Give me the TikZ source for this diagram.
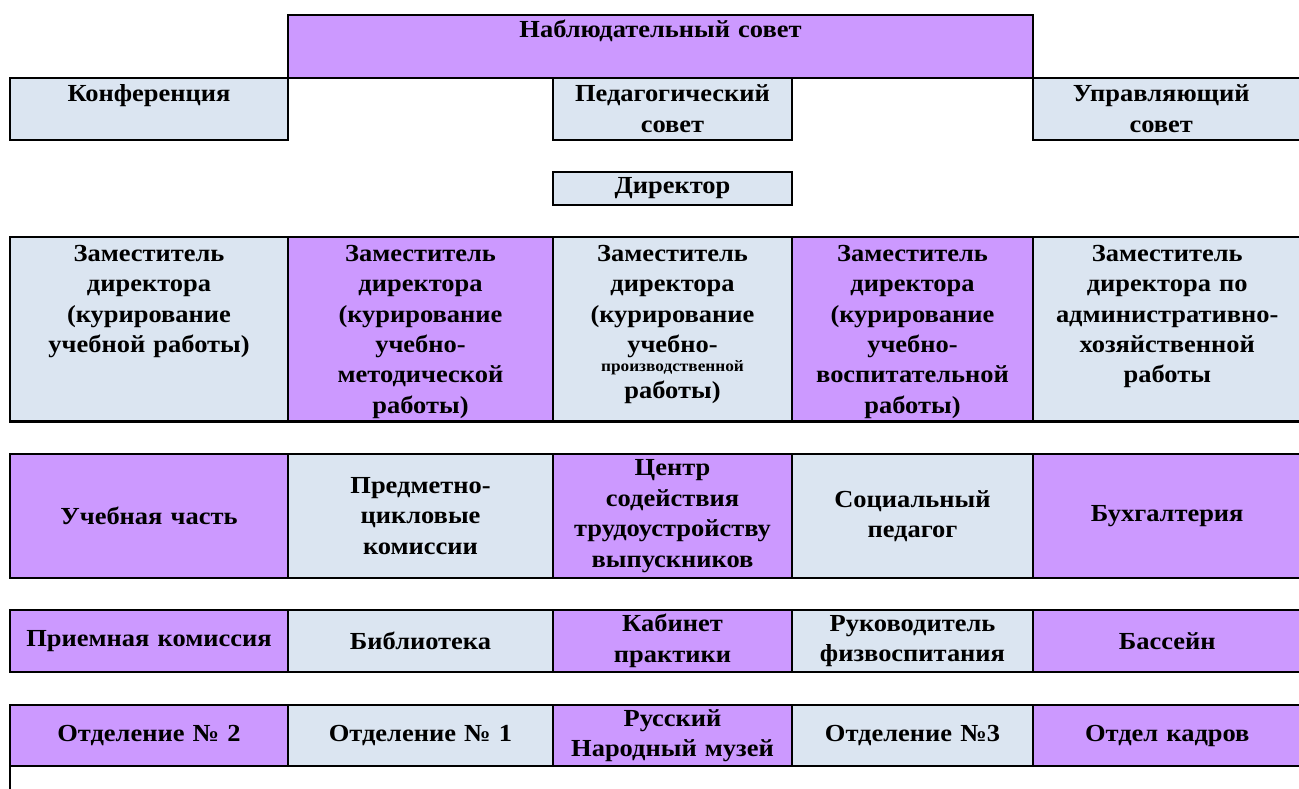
\documentclass[tikz,border=0pt]{standalone}
\usepackage{fontspec}
\newfontfamily\tnr{Liberation Serif}[FakeStretch=1.08]
\definecolor{lav}{RGB}{204,153,255}
\definecolor{lblue}{RGB}{219,229,241}
\hyphenpenalty=10000
\tikzset{
  cellbox/.style={draw=black, line width=2.2pt, inner sep=0pt, outer sep=0pt, anchor=north west},
  txt/.style={font=\tnr\bfseries\fontsize{24.5}{30.5}\selectfont, align=center, inner sep=0pt, outer sep=0pt},
  toptxt/.style={txt, anchor=north, execute at begin node={\rule{0pt}{20pt}}},
  midtxt/.style={txt, anchor=center},
}
\newcommand\mkcell[6]{\node[cellbox, fill=#6, minimum width={(#4)-(#2)}, minimum height={(#5)-(#3)}] (#1) at (#2,#3) {};}
\newcommand\toptext[5]{\node[toptxt, text width=#3] (#1) at ([yshift=-#4]#2.north) {#5};}
\newcommand\midtext[4]{\node[midtxt, text width=#3] (#1) at (#2.center) {#4};}
\begin{document}
\begin{tikzpicture}[x=1pt,y=-1pt]
\useasboundingbox (0,0) rectangle (1299,789);
\clip (0,0) rectangle (1299,789);
% top
\mkcell{nab}{288}{15}{1033}{78}{lav}
\mkcell{konf}{10}{78}{288}{140}{lblue}
\mkcell{ped}{553}{78}{792}{140}{lblue}
\mkcell{upr}{1033}{78}{1301.5}{140}{lblue}
\mkcell{dir}{553}{172}{792}{205}{lblue}
% deputies
\mkcell{z1}{10}{237}{288}{421.5}{lblue}
\mkcell{z2}{288}{237}{553}{421.5}{lav}
\mkcell{z3}{553}{237}{792}{421.5}{lblue}
\mkcell{z4}{792}{237}{1033}{421.5}{lav}
\mkcell{z5}{1033}{237}{1301.5}{421.5}{lblue}
% row 2
\mkcell{a1}{10}{454}{288}{578}{lav}
\mkcell{a2}{288}{454}{553}{578}{lblue}
\mkcell{a3}{553}{454}{792}{578}{lav}
\mkcell{a4}{792}{454}{1033}{578}{lblue}
\mkcell{a5}{1033}{454}{1301.5}{578}{lav}
% row 3
\mkcell{b1}{10}{610}{288}{672}{lav}
\mkcell{b2}{288}{610}{553}{672}{lblue}
\mkcell{b3}{553}{610}{792}{672}{lav}
\mkcell{b4}{792}{610}{1033}{672}{lblue}
\mkcell{b5}{1033}{610}{1301.5}{672}{lav}
% row 4
\mkcell{c1}{10}{705}{288}{766}{lav}
\mkcell{c2}{288}{705}{553}{766}{lblue}
\mkcell{c3}{553}{705}{792}{766}{lav}
\mkcell{c4}{792}{705}{1033}{766}{lblue}
\mkcell{c5}{1033}{705}{1301.5}{766}{lav}
% partially visible box below
\mkcell{d1}{10}{766}{1301.5}{820}{white}
% texts
\toptext{tnab}{nab}{700pt}{3pt}{Наблюдательный совет}
\toptext{tkonf}{konf}{270pt}{4pt}{Конференция}
\toptext{tped}{ped}{232pt}{4pt}{Педагогический\\совет}
\node[toptxt, text width=260pt] (tupr) at ([xshift=-6pt,yshift=-4pt]upr.north) {Управляющий\\совет};
\midtext{tdir}{dir}{232pt}{Директор}
\toptext{tz1}{z1}{270pt}{4pt}{Заместитель\\директора\\(курирование\\учебной работы)}
\toptext{tz2}{z2}{258pt}{4pt}{Заместитель\\директора\\(курирование\\учебно-\\методической\\работы)}
\toptext{tz3}{z3}{232pt}{4pt}{Заместитель\\директора\\(курирование\\учебно-\\[-11pt]{\fontsize{16}{18}\selectfont производственной}\\[-4pt]работы)}
\toptext{tz4}{z4}{234pt}{4pt}{Заместитель\\директора\\(курирование\\учебно-\\воспитательной\\работы)}
\toptext{tz5}{z5}{262pt}{4pt}{Заместитель\\директора по\\административно-\\хозяйственной\\работы}
\midtext{ta1}{a1}{270pt}{Учебная часть}
\midtext{ta2}{a2}{258pt}{Предметно-\\цикловые\\комиссии}
\midtext{ta3}{a3}{236pt}{Центр\\содействия\\трудоустройству\\выпускников}
\midtext{ta4}{a4}{234pt}{Социальный\\педагог}
\midtext{ta5}{a5}{262pt}{Бухгалтерия}
\midtext{tb1}{b1}{276pt}{Приемная комиссия}
\midtext{tb2}{b2}{258pt}{Библиотека}
\midtext{tb3}{b3}{232pt}{Кабинет\\практики}
\midtext{tb4}{b4}{236pt}{Руководитель\\физвоспитания}
\midtext{tb5}{b5}{262pt}{Бассейн}
\midtext{tc1}{c1}{270pt}{Отделение № 2}
\midtext{tc2}{c2}{258pt}{Отделение № 1}
\midtext{tc3}{c3}{236pt}{Русский\\Народный музей}
\midtext{tc4}{c4}{234pt}{Отделение №3}
\midtext{tc5}{c5}{262pt}{Отдел кадров}
\end{tikzpicture}
\end{document}
